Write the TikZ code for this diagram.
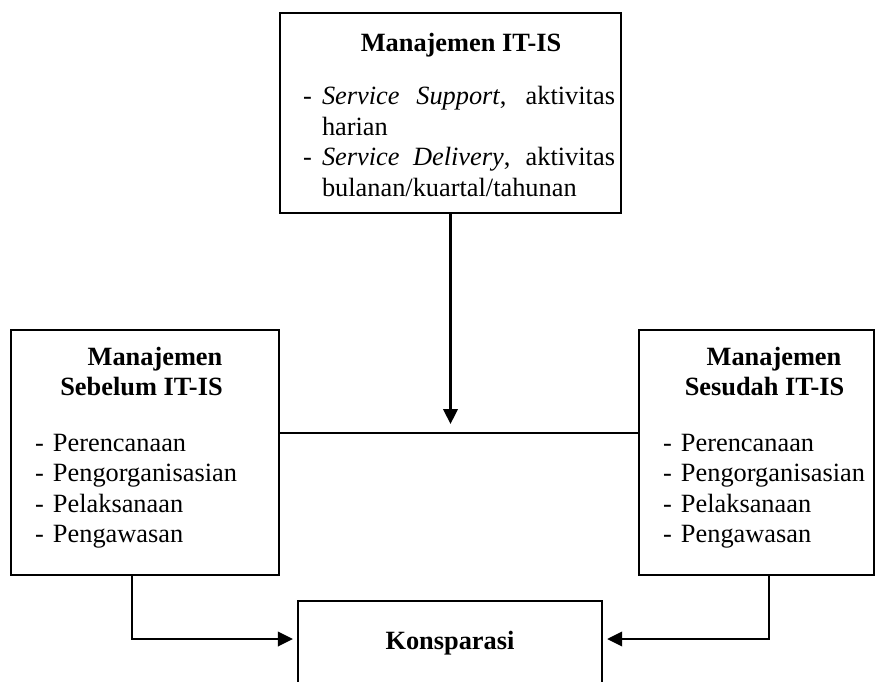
\documentclass[tikz,border=0pt]{standalone}
\usepackage{fontspec}
\setmainfont{Liberation Serif}
\usepackage{tikz}
\usetikzlibrary{arrows.meta,calc}

% one pixel of the drawing
\newdimen\pxu
\pxu=0.02cm
% box body: width, height (in pixels), contents
\newcommand{\boxbody}[3]{\begin{minipage}[c][#2\pxu][t]{#1\pxu}#3\end{minipage}}
\newcommand{\itm}{\makebox[18\pxu][l]{-}}

\begin{document}
\begin{tikzpicture}[x=0.02cm, y=-0.02cm,
    every node/.style={font=\fontsize{15pt}{17.4pt}\selectfont},
    box/.style={draw, line width=1.3pt, inner sep=0pt},
    arr/.style={line width=1.3pt, -{Triangle[length=0.3cm, width=0.29cm]}},
    link/.style={line width=1.3pt}]
    \useasboundingbox (0,0) rectangle (875,682);
    \clip (0,0) rectangle (875,682);

    % Top box: IT-IS management
    \node[box] (itis) at (450.5,113) {\boxbody{341}{200}{%
        {\centering\bfseries\rule{0pt}{39\pxu}\hspace*{21\pxu}Manajemen IT-IS\par}
        \vspace{22\pxu}
        {\leftskip=23\pxu \rightskip=6\pxu
        \hangindent=19\pxu \makebox[19\pxu][l]{-}\textit{Service Support}, aktivitas\linebreak harian\par
        \hangindent=19\pxu \makebox[19\pxu][l]{-}\textit{Service Delivery}, aktivitas\linebreak bulanan/kuartal/tahunan\par}}};

    % Left box: before IT-IS
    \node[box] (sebelum) at (145,452.5) {\boxbody{268}{245}{%
        {\centering\bfseries\rule{0pt}{35\pxu}\hspace*{20\pxu}Manajemen\\\hspace*{-7\pxu}Sebelum IT-IS\par}
        \vspace{25\pxu}
        {\leftskip=24\pxu
        \itm Perencanaan\par
        \itm Pengorganisasian\par
        \itm Pelaksanaan\par
        \itm Pengawasan\par}}};

    % Right box: after IT-IS
    \node[box] (sesudah) at (756.5,452.5) {\boxbody{235}{245}{%
        {\centering\bfseries\rule{0pt}{35\pxu}\hspace*{35\pxu}Manajemen\\\hspace*{16\pxu}Sesudah IT-IS\par}
        \vspace{25\pxu}
        {\leftskip=24\pxu
        \itm Perencanaan\par
        \itm Pengorganisasian\par
        \itm Pelaksanaan\par
        \itm Pengawasan\par}}};

    % Bottom box (cut by the page edge)
    \node[box, minimum width=304\pxu, minimum height=85\pxu] (kons) at (450,643.5) {\textbf{Konsparasi}};

    % Connectors
    \coordinate (join) at (450,433);
    \draw[link] (sebelum.east |- join) -- (sesudah.west |- join);
    \draw[arr, shorten >=9\pxu] (itis.south) -- (itis.south |- join);
    \draw[arr, shorten >=4\pxu] ($(sebelum.south)+(-13,0)$) |- ($(kons.west)+(0,-4.5)$);
    \draw[arr, shorten >=4\pxu] ($(sesudah.south)+(12.5,0)$) |- ($(kons.east)+(0,-4.5)$);
\end{tikzpicture}
\end{document}
